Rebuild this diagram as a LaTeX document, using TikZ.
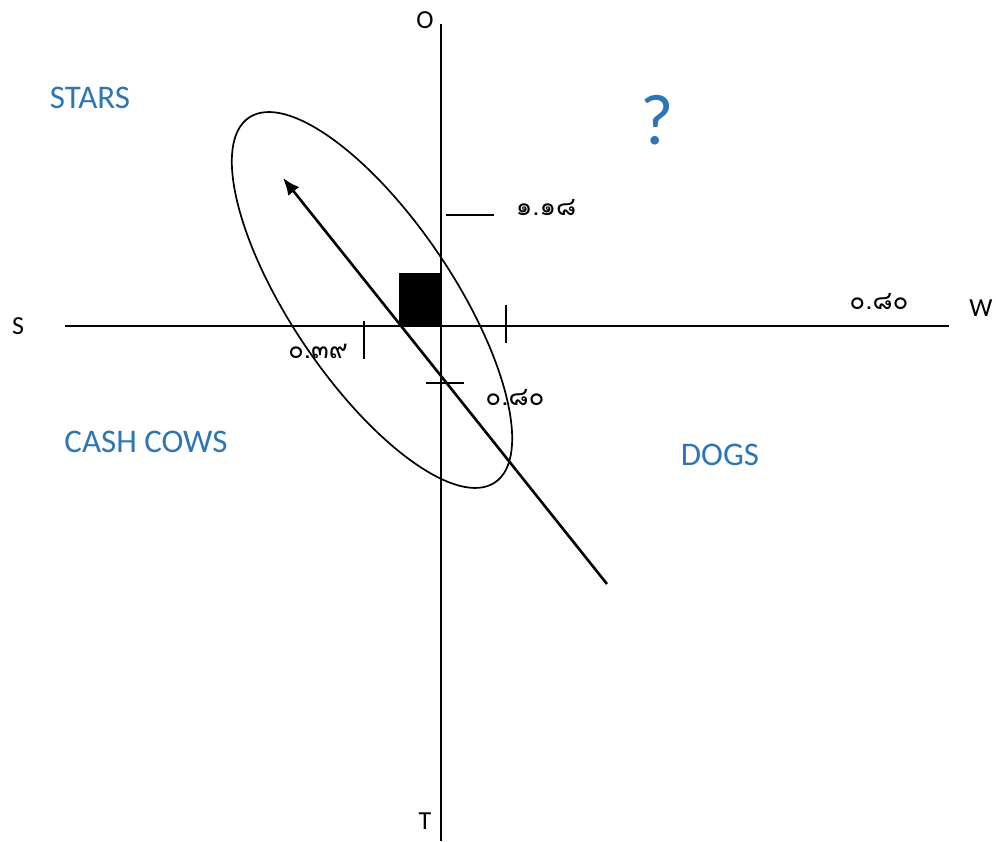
\documentclass[tikz,border=0pt]{standalone}
\usepackage{fontspec}
\usetikzlibrary{arrows.meta}
\setmainfont{Carlito}
\newfontfamily\thaifont[Script=Thai]{Loma}
\definecolor{labelblue}{RGB}{46,117,182}
\tikzset{
  axis/.style={line width=2.2pt},
  tick/.style={line width=2.2pt},
  axlabel/.style={inner sep=0pt, font=\fontsize{26}{28}\selectfont},
  quad/.style={inner sep=0pt, text=labelblue, font=\fontsize{33}{36}\selectfont},
  num/.style={inner sep=0pt, font=\thaifont\fontsize{26}{28}\selectfont},
}
\begin{document}
\begin{tikzpicture}[x=1pt,y=1pt]
\useasboundingbox (0,0) rectangle (996,841);
% axes
\coordinate (vtop) at (441,817);
\coordinate (vbot) at (441,0);
\coordinate (hl) at (65,515);
\coordinate (hr) at (949,515);
\draw[axis] (vtop) -- (vbot);
\draw[axis] (hl) -- (hr);
% ticks
\coordinate (t1a) at (364,520); \coordinate (t1b) at (364,482);
\coordinate (t2a) at (506,536); \coordinate (t2b) at (506,498);
\coordinate (t3a) at (446,626); \coordinate (t3b) at (494,626);
\coordinate (t4a) at (426,458); \coordinate (t4b) at (464,458);
\draw[tick] (t1a) -- (t1b);
\draw[tick] (t2a) -- (t2b);
\draw[tick] (t3a) -- (t3b);
\draw[tick] (t4a) -- (t4b);
% black square
\node[fill=black, draw=none, minimum width=42pt, minimum height=53pt, inner sep=0pt, anchor=south west] (sq) at (399,515) {};
% ellipse
\draw[line width=1.7pt, rotate around={-56:(372,541)}] (372,541) ellipse [x radius=220, y radius=81];
% arrow
\coordinate (atail) at (607,257);
\coordinate (ahead) at (283,663);
\draw[line width=2.6pt, -{Latex[length=17pt,width=14pt]}] (atail) -- (ahead);
% axis labels
\node[axlabel] (lO) at (425,821) {O};
\node[axlabel] (lT) at (425,20) {T};
\node[axlabel] (lS) at (18,515) {S};
\node[axlabel] (lW) at (981,533) {W};
% quadrant labels
\node[quad] (stars) at (90,743) {STARS};
\node[quad, font=\fontsize{72}{76}\selectfont] (q) at (657,721) {?};
\node[quad] (cash) at (146,399) {CASH COWS};
\node[quad] (dogs) at (720,386) {DOGS};
% numbers
\node[num] (n1) at (546,633) {๑.๑๘};
\node[num] (n2) at (879,539) {๐.๘๐};
\node[num] (n3) at (318,490) {๐.๓๙};
\node[num] (n4) at (515,443) {๐.๘๐};
\end{tikzpicture}
\end{document}
